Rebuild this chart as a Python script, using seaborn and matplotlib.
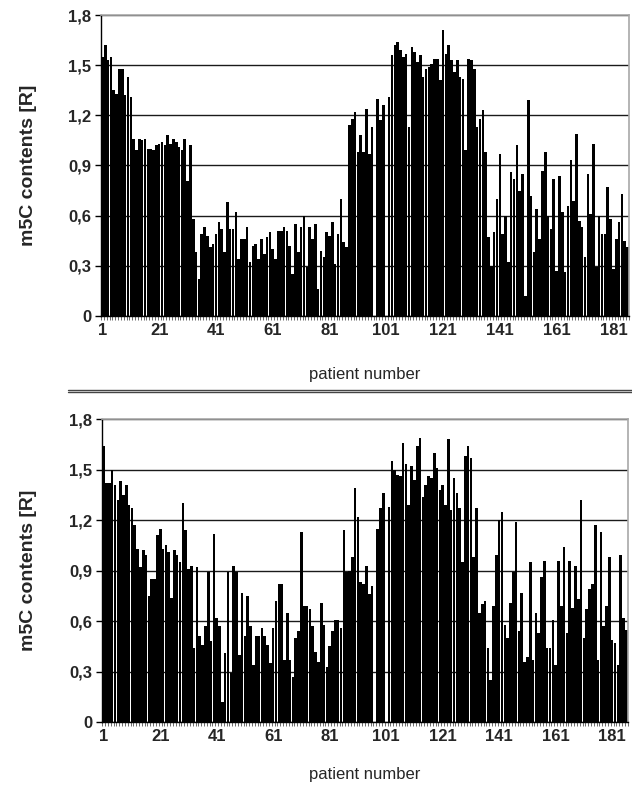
import numpy as np
import pandas as pd
import matplotlib
matplotlib.use("Agg")
import matplotlib.pyplot as plt
from matplotlib.lines import Line2D
import seaborn as sns

# ---------------- data ----------------
patients = list(range(1, 187))

m5c_top = [
    1.55, 1.62, 1.53, 1.55, 1.35, 1.33, 1.48, 1.48, 1.32, 1.43,
    1.31, 1.06, 0.99, 1.06, 1.05, 1.06, 1.00, 1.00, 0.99, 1.02,
    1.03, 1.04, 1.02, 1.08, 1.03, 1.06, 1.04, 1.01, 0.99, 1.06,
    0.81, 1.02, 0.58, 0.38, 0.22, 0.49, 0.53, 0.48, 0.41, 0.43,
    0.49, 0.56, 0.52, 0.38, 0.68, 0.52, 0.52, 0.62, 0.34, 0.46,
    0.46, 0.53, 0.32, 0.42, 0.43, 0.34, 0.46, 0.37, 0.47, 0.50,
    0.40, 0.34, 0.51, 0.51, 0.53, 0.51, 0.42, 0.25, 0.55, 0.38,
    0.53, 0.60, 0.29, 0.53, 0.46, 0.55, 0.16, 0.39, 0.35, 0.50,
    0.48, 0.56, 0.31, 0.49, 0.70, 0.44, 0.41, 1.14, 1.18, 1.22,
    0.98, 1.08, 0.98, 1.24, 0.97, 1.13, 0.00, 1.30, 1.17, 1.26,
    0.00, 1.31, 1.56, 1.62, 1.64, 1.59, 1.55, 1.57, 1.13, 1.61,
    1.58, 1.52, 1.56, 1.43, 1.48, 1.49, 1.51, 1.54, 1.54, 1.41,
    1.71, 1.57, 1.62, 1.53, 1.46, 1.53, 1.43, 1.42, 0.99, 1.54,
    1.53, 1.48, 1.13, 1.18, 1.23, 0.98, 0.47, 0.30, 0.50, 0.70,
    0.97, 0.49, 0.60, 0.32, 0.86, 0.82, 1.02, 0.75, 0.85, 0.12,
    1.29, 0.72, 0.38, 0.64, 0.46, 0.87, 0.98, 0.60, 0.52, 0.82,
    0.27, 0.84, 0.62, 0.26, 0.66, 0.93, 0.69, 1.09, 0.57, 0.53,
    0.35, 0.85, 0.61, 1.03, 0.29, 0.60, 0.49, 0.49, 0.77, 0.58,
    0.28, 0.46, 0.56, 0.73, 0.45, 0.41,
]

m5c_bottom = [
    1.64, 1.42, 1.42, 1.50, 1.41, 1.32, 1.43, 1.35, 1.41, 1.29,
    1.27, 1.17, 1.03, 0.92, 1.02, 0.99, 0.75, 0.85, 0.85, 1.11,
    1.15, 1.03, 1.05, 1.01, 0.74, 1.02, 0.99, 0.95, 1.30, 1.14,
    0.91, 0.93, 0.44, 0.92, 0.51, 0.46, 0.57, 0.89, 0.48, 1.12,
    0.62, 0.57, 0.12, 0.41, 0.89, 0.29, 0.93, 0.89, 0.40, 0.77,
    0.51, 0.75, 0.57, 0.34, 0.51, 0.51, 0.56, 0.51, 0.46, 0.35,
    0.56, 0.72, 0.82, 0.82, 0.37, 0.65, 0.37, 0.27, 0.50, 0.54,
    1.13, 0.69, 0.69, 0.67, 0.57, 0.42, 0.36, 0.71, 0.58, 0.33,
    0.45, 0.54, 0.61, 0.61, 0.56, 1.14, 0.89, 0.90, 0.98, 1.39,
    1.22, 0.83, 0.82, 0.93, 0.76, 0.81, 0.00, 1.15, 1.27, 1.36,
    0.00, 1.28, 1.55, 1.50, 1.47, 1.46, 1.66, 1.53, 1.29, 1.52,
    1.44, 1.64, 1.69, 1.34, 1.41, 1.46, 1.45, 1.60, 1.51, 1.38,
    1.41, 1.29, 1.68, 1.26, 1.45, 1.36, 1.27, 0.95, 1.58, 1.64,
    1.57, 0.98, 1.27, 0.65, 0.70, 0.72, 0.44, 0.25, 0.69, 0.99,
    1.20, 1.25, 0.58, 0.50, 0.71, 0.89, 1.19, 0.54, 0.77, 0.36,
    0.39, 0.95, 0.37, 0.65, 0.53, 0.86, 0.96, 0.44, 0.44, 0.61,
    0.34, 0.96, 0.69, 1.04, 0.53, 0.96, 0.68, 0.93, 0.73, 1.32,
    0.50, 0.67, 0.79, 0.82, 1.17, 0.37, 1.13, 0.57, 0.69, 0.98,
    0.49, 0.47, 0.34, 0.99, 0.62, 0.55,
]

x_tick_labels = ["1", "21", "41", "61", "81", "101", "121", "141", "161", "181"]
y_ticks = [0, 0.3, 0.6, 0.9, 1.2, 1.5, 1.8]
y_tick_labels = ["0", "0,3", "0,6", "0,9", "1,2", "1,5", "1,8"]
y_label = "m5C contents [R]"
x_label = "patient number"

# ---------------- style ----------------
sns.set_theme(style="white")
plt.rcParams["font.family"] = ["Liberation Sans", "DejaVu Sans"]

W, H = 632, 788
fig = plt.figure(figsize=(W / 100, H / 100), dpi=100)
fig.patch.set_facecolor("white")


def px_rect(left, top, right, bottom):
    return [left / W, 1 - bottom / H, (right - left) / W, (bottom - top) / H]


panels = [
    (m5c_top, px_rect(101, 15.3, 629, 315.7), 0.138, 0.170),
    (m5c_bottom, px_rect(102.3, 419, 627.7, 722.3), 0.140, 0.148),
]

for values, rect, ylab_off, xlab_off in panels:
    ax = fig.add_axes(rect)
    df = pd.DataFrame({"patient": [str(p) for p in patients], "m5C": values})
    sns.barplot(data=df, x="patient", y="m5C", color="black", saturation=1,
                width=0.92, linewidth=0, errorbar=None, ax=ax)
    n = len(patients)
    ax.set_xlim(-0.5, n - 0.5)
    ax.set_ylim(0, 1.8)
    ax.set_axisbelow(True)
    ax.yaxis.grid(True, color="#1a1a1a", linewidth=1.0)
    ax.xaxis.grid(False)

    ax.set_yticks(y_ticks)
    ax.set_yticklabels(y_tick_labels, fontsize=12, fontweight="bold")
    ax.set_xticks([patients.index(int(t)) for t in x_tick_labels])
    ax.set_xticklabels(x_tick_labels, fontsize=12, fontweight="bold")
    ax.set_xticks(np.arange(-0.5, n, 1.0), minor=True)
    ax.tick_params(axis="x", which="major", length=0, pad=5)
    ax.tick_params(axis="x", which="minor", length=3, width=0.6,
                   color="#555555", direction="out", bottom=True)
    ax.tick_params(axis="y", which="major", length=4, width=1,
                   color="black", direction="out", left=True, pad=3)

    for side in ("top", "right"):
        ax.spines[side].set_color("#a8a8a8")
        ax.spines[side].set_linewidth(1.2)
    for side in ("left", "bottom"):
        ax.spines[side].set_color("black")
        ax.spines[side].set_linewidth(1.0)

    ax.set_ylabel(y_label, fontsize=14, fontweight="bold", va="center")
    ax.yaxis.set_label_coords(-ylab_off, 0.5)
    ax.set_xlabel(x_label, fontsize=12, va="top")
    ax.xaxis.set_label_coords(0.5, -xlab_off)

# double separator line between the panels
for yy in (389.5, 392.5):
    fig.add_artist(Line2D([68 / W, 1.0], [1 - yy / H, 1 - yy / H],
                          color="#444444", linewidth=1.0,
                          transform=fig.transFigure))

fig.savefig("out.png", dpi=100, facecolor="white")
